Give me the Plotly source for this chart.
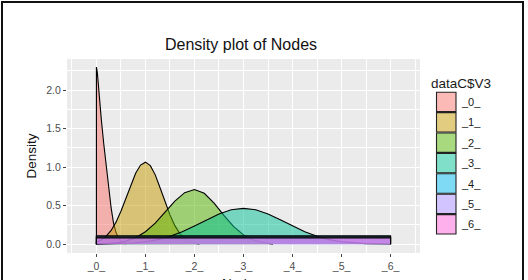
import plotly.graph_objects as go

# ---------------- data ----------------
groups = ["_0_", "_1_", "_2_", "_3_", "_4_", "_5_", "_6_"]
colors = ["#F8766D", "#C49A00", "#53B400", "#00C094", "#00B6EB", "#A58AFF", "#FB61D7"]

x_g0 = [0, 0.02, 0.05, 0.1, 0.15, 0.2, 0.25, 0.3, 0.35, 0.4, 0.45, 0.5, 0.55, 0.6]
y_g0 = [2.30, 2.22, 1.96, 1.62, 1.30, 1.00, 0.73, 0.47, 0.27, 0.15, 0.08, 0.04, 0.02, 0.0]

x_g1 = [0.0, 0.1, 0.2, 0.3, 0.4, 0.5, 0.6, 0.7, 0.8, 0.9, 1.0, 1.1, 1.2, 1.3, 1.4, 1.5, 1.6, 1.7, 1.8, 1.9, 2.0, 2.1]
y_g1 = [0.028, 0.055, 0.103, 0.178, 0.286, 0.427, 0.594, 0.767, 0.920, 1.027, 1.065,
        1.02, 0.90, 0.73, 0.55, 0.38, 0.24, 0.14, 0.075, 0.035, 0.015, 0.006]

x_g2 = [0.0, 0.2, 0.4, 0.6, 0.8, 1.0, 1.2, 1.4, 1.6, 1.8, 2.0, 2.2, 2.4, 2.6, 2.8, 3.0, 3.2, 3.4, 3.6]
y_g2 = [0.003, 0.008, 0.016, 0.039, 0.084, 0.161, 0.274, 0.416, 0.560, 0.669, 0.710,
        0.661, 0.534, 0.374, 0.227, 0.120, 0.055, 0.022, 0.007]

x_g3 = [0.0, 0.5, 0.75, 1.0, 1.25, 1.5, 1.75, 2.0, 2.25, 2.5, 2.75, 3.0, 3.25, 3.5, 3.75,
        4.0, 4.25, 4.5, 4.75, 5.0, 5.25, 5.5, 6.0]
y_g3 = [0.001, 0.007, 0.015, 0.031, 0.059, 0.102, 0.162, 0.237, 0.318, 0.393, 0.446, 0.465,
        0.446, 0.393, 0.318, 0.237, 0.162, 0.102, 0.059, 0.031, 0.015, 0.007, 0.001]

x_g4 = [0, 6]
y_g4 = [0.110, 0.108]
x_g5 = [0, 6]
y_g5 = [0.095, 0.094]
x_g6 = [0, 6]
y_g6 = [0.082, 0.081]

x_ticks = [0, 1, 2, 3, 4, 5, 6]
x_ticklabels = ["_0_", "_1_", "_2_", "_3_", "_4_", "_5_", "_6_"]
y_ticks = [0.0, 0.5, 1.0, 1.5, 2.0]
y_ticklabels = ["0.0", "0.5", "1.0", "1.5", "2.0"]

xs_all = [x_g0, x_g1, x_g2, x_g3, x_g4, x_g5, x_g6]
ys_all = [y_g0, y_g1, y_g2, y_g3, y_g4, y_g5, y_g6]


def rgba(hexc, a):
    h = hexc.lstrip("#")
    return "rgba(%d,%d,%d,%s)" % (int(h[0:2], 16), int(h[2:4], 16), int(h[4:6], 16), a)


FONT = "Liberation Sans, Arial, sans-serif"
W, H = 528, 280
L, R, T, B = 67, 420, 59, 253


def px_x(p):
    return (p - L) / (R - L)


def px_y(p):
    return (B - p) / (B - T)


fig = go.Figure()
for g, c, xs, ys in zip(groups, colors, xs_all, ys_all):
    # closed density polygon (baseline included, as ggplot draws it)
    px = [xs[0]] + list(xs) + [xs[-1]]
    py = [0] + list(ys) + [0]
    fig.add_trace(go.Scatter(
        x=px, y=py, mode="lines", fill="toself",
        fillcolor=rgba(c, 0.5), line=dict(color="black", width=1.1),
        name=g, showlegend=False, hoverinfo="skip"))

shapes = []
annotations = []

# outer frame
shapes.append(dict(type="rect", xref="paper", yref="paper",
                   x0=px_x(2), x1=px_x(523), y0=px_y(300), y1=px_y(2),
                   line=dict(color="#111111", width=2), fillcolor="rgba(0,0,0,0)", layer="above"))

# x-axis title (partly cut by the bottom edge, as in the reference)
annotations.append(dict(text="Nodes", xref="paper", yref="paper",
                        x=px_x(241), y=px_y(283), xanchor="center", yanchor="middle",
                        showarrow=False, font=dict(family=FONT, size=13.5, color="#111111")))

# manual legend
key_top = 91.7
key_h = 20.4
annotations.append(dict(text="dataC$V3", xref="paper", yref="paper",
                        x=px_x(429), y=px_y(83), xanchor="left", yanchor="middle",
                        showarrow=False, font=dict(family=FONT, size=13.5, color="#1a1a1a")))
for i, (g, c) in enumerate(zip(groups, colors)):
    y0 = key_top + i * key_h
    shapes.append(dict(type="rect", xref="paper", yref="paper",
                       x0=px_x(436.5), x1=px_x(456), y0=px_y(y0 + key_h - 0.5), y1=px_y(y0 + 0.5),
                       fillcolor=rgba(c, 0.5), line=dict(color="#222222", width=1.1)))
    annotations.append(dict(text=g, xref="paper", yref="paper",
                            x=px_x(459), y=px_y(y0 + key_h / 2), xanchor="left", yanchor="middle",
                            showarrow=False, font=dict(family=FONT, size=11, color="#1a1a1a")))

fig.update_layout(
    width=W, height=H,
    margin=dict(l=L, r=W - R, t=T, b=H - B, pad=0, autoexpand=False),
    paper_bgcolor="white", plot_bgcolor="#EBEBEB",
    showlegend=False,
    title=dict(text="Density plot of Nodes", x=px_x(241), xref="paper", xanchor="center",
               y=1 - 44 / H, yanchor="middle",
               font=dict(family=FONT, size=16, color="#111111")),
    shapes=shapes, annotations=annotations,
    xaxis=dict(range=[-0.6, 6.6], tickmode="array", tickvals=x_ticks, ticktext=x_ticklabels,
               automargin=False,
               showgrid=True, gridcolor="white", gridwidth=1.1, zeroline=False,
               ticks="outside", ticklen=3, tickwidth=1, tickcolor="#444444",
               tickfont=dict(family=FONT, size=10.5, color="#4D4D4D"),
               minor=dict(tick0=0, dtick=0.5, showgrid=True, gridcolor="white", gridwidth=0.5, ticks=""),
               fixedrange=True),
    yaxis=dict(range=[-0.115, 2.405], tickmode="array", tickvals=y_ticks, ticktext=y_ticklabels,
               automargin=False,
               showgrid=True, gridcolor="white", gridwidth=1.1, zeroline=False,
               ticks="outside", ticklen=3, tickwidth=1, tickcolor="#444444",
               tickfont=dict(family=FONT, size=10.5, color="#4D4D4D"),
               minor=dict(tick0=0, dtick=0.25, showgrid=True, gridcolor="white", gridwidth=0.5, ticks=""),
               title=dict(text="Density", standoff=6, font=dict(family=FONT, size=13.5, color="#111111")),
               fixedrange=True),
)

fig.write_html("out.html", config={"displayModeBar": False})
